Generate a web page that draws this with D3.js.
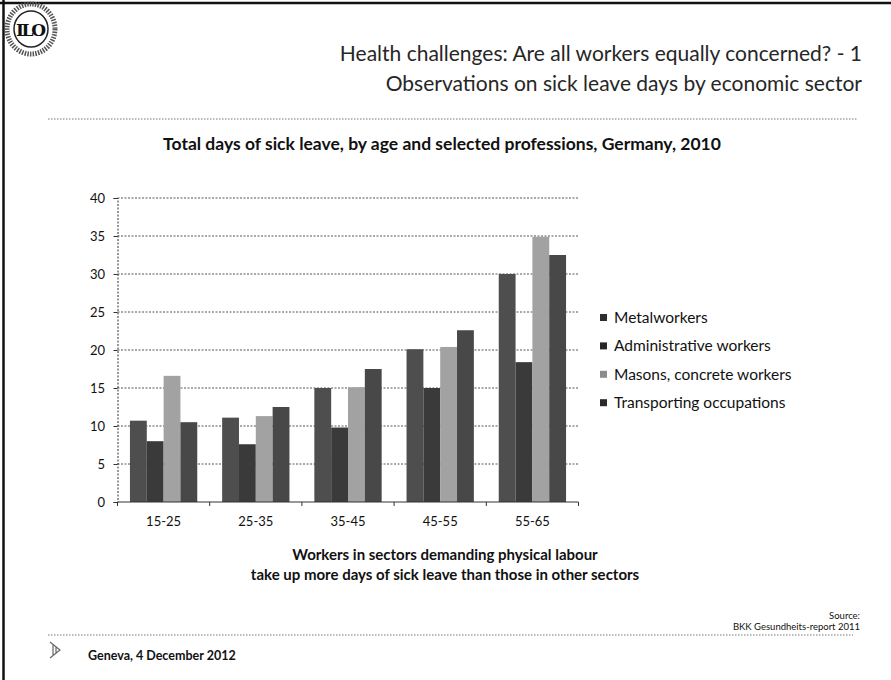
<!DOCTYPE html>
<html>
<head>
<meta charset="utf-8">
<script src="https://cdn.jsdelivr.net/npm/d3@7"></script>
<style>
  html, body { margin: 0; padding: 0; background: #fff; }
  svg text { font-family: Lato, "Open Sans", "Liberation Sans", sans-serif; fill: #111; }
</style>
</head>
<body>
<svg id="chart" width="891" height="680"></svg>
<script>
// Age groups on the x axis
const ageGroups = ["15-25", "25-35", "35-45", "45-55", "55-65"];
// Professions shown as the bars inside each age group
const professions = ["Metalworkers", "Administrative workers", "Masons, concrete workers", "Transporting occupations"];
// Total days of sick leave per profession, one value per age group
const metalworkers   = [10.7, 11.1, 15.0, 20.1, 30.0];
const administrative = [8.0, 7.6, 9.8, 15.0, 18.4];
const masons         = [16.6, 11.3, 15.1, 20.4, 34.9];
const transporting   = [10.5, 12.5, 17.5, 22.6, 32.5];
const yTicks = [0, 5, 10, 15, 20, 25, 30, 35, 40];

const seriesValues = [metalworkers, administrative, masons, transporting];
const fills = ["#4e4e4e", "#3a3a3a", "#a2a2a2", "#484848"];
const legendFills = ["#2e2e2e", "#262626", "#8c8c8c", "#2a2a2a"];

const svg = d3.select("#chart");

// Slide frame
svg.append("line").attr("x1", 3.5).attr("x2", 3.5).attr("y1", 0).attr("y2", 680)
  .attr("stroke", "#111").attr("stroke-width", 2.5);
svg.append("line").attr("x1", 0).attr("x2", 891).attr("y1", 3).attr("y2", 3)
  .attr("stroke", "#111").attr("stroke-width", 2.5);

// ILO emblem: laurel ring with the letters in the middle
const logo = svg.append("g").attr("transform", "translate(31,29)");
logo.append("ellipse").attr("rx", 24).attr("ry", 25).attr("fill", "none")
  .attr("stroke", "#555").attr("stroke-width", 5).attr("stroke-dasharray", "1.5,1.2");
logo.append("ellipse").attr("rx", 17).attr("ry", 18).attr("fill", "none")
  .attr("stroke", "#222").attr("stroke-width", 1.5);
logo.append("text").attr("text-anchor", "middle").attr("y", 7)
  .style("font-family", "'DejaVu Serif', serif").style("font-weight", "bold")
  .style("font-size", "17px").attr("textLength", 30).text("ILO");

// Slide titles
svg.append("text").attr("x", 862).attr("y", 61).attr("text-anchor", "end")
  .style("font-size", "21px").style("fill", "#262626")
  .text("Health challenges: Are all workers equally concerned? - 1");
svg.append("text").attr("x", 862).attr("y", 91).attr("text-anchor", "end")
  .style("font-size", "21px").style("fill", "#262626")
  .text("Observations on sick leave days by economic sector");

svg.append("line").attr("x1", 48).attr("x2", 857).attr("y1", 119).attr("y2", 119)
  .attr("stroke", "#777").attr("stroke-width", 1).attr("stroke-dasharray", "1.5,1.5");

// Chart title
svg.append("text").attr("x", 442).attr("y", 150).attr("text-anchor", "middle")
  .style("font-size", "17.5px").style("font-weight", "bold")
  .text("Total days of sick leave,  by age and selected professions, Germany, 2010");

// Plot area
const plotLeft = 117.5, plotRight = 578.5, plotTop = 198, plotBottom = 502;
const x0 = d3.scaleBand().domain(ageGroups).range([plotLeft, plotRight]).paddingInner(0.27).paddingOuter(0.135);
const x1 = d3.scaleBand().domain(d3.range(professions.length)).range([0, x0.bandwidth()]);
const y = d3.scaleLinear().domain([0, 40]).range([plotBottom, plotTop]);

// Horizontal grid lines
svg.append("g").selectAll("line").data(yTicks.filter(d => d > 0)).join("line")
  .attr("x1", plotLeft).attr("x2", plotRight)
  .attr("y1", d => y(d)).attr("y2", d => y(d))
  .attr("stroke", "#555").attr("stroke-width", 1).attr("stroke-dasharray", "2,1.5");

// Y axis
const yAxis = svg.append("g").attr("transform", `translate(${plotLeft},0)`)
  .call(d3.axisLeft(y).tickValues(yTicks).tickSize(4).tickPadding(8.5));
yAxis.select(".domain").attr("stroke", "#333").attr("stroke-dasharray", "2,1.5");
yAxis.selectAll(".tick line").attr("stroke", "#333");
yAxis.selectAll("text").style("font-size", "13px").style("font-family", "Lato, sans-serif").attr("fill", "#111");

// Bars
const groups = svg.append("g").selectAll("g").data(ageGroups).join("g")
  .attr("transform", d => `translate(${x0(d)},0)`);
groups.selectAll("rect")
  .data((d, i) => seriesValues.map((vals, s) => ({ s, v: vals[i] })))
  .join("rect")
  .attr("x", d => x1(d.s))
  .attr("width", x1.bandwidth())
  .attr("y", d => y(d.v))
  .attr("height", d => y(0) - y(d.v))
  .attr("fill", d => fills[d.s]);

// X axis with ticks at category boundaries
const xAxisG = svg.append("g").attr("transform", `translate(0,${plotBottom})`);
xAxisG.append("line").attr("x1", plotLeft).attr("x2", plotRight).attr("y1", 0).attr("y2", 0)
  .attr("stroke", "#333").attr("stroke-width", 1);
const step = x0.step();
const boundaries = ageGroups.map(d => x0(d) - x0.paddingInner() * step / 2).concat([plotRight]);
xAxisG.selectAll("line.tk").data(boundaries).join("line").attr("class", "tk")
  .attr("x1", d => d).attr("x2", d => d).attr("y1", 0).attr("y2", 4).attr("stroke", "#333");
xAxisG.selectAll("text").data(ageGroups).join("text")
  .attr("x", d => x0(d) + x0.bandwidth() / 2).attr("y", 23.5)
  .attr("text-anchor", "middle").style("font-size", "13px").text(d => d);

// Legend
const legend = svg.append("g").attr("transform", "translate(600,323)");
const lg = legend.selectAll("g").data(professions).join("g")
  .attr("transform", (d, i) => `translate(0,${i * 28.4})`);
lg.append("rect").attr("x", 0).attr("y", -9).attr("width", 7).attr("height", 7)
  .attr("fill", (d, i) => legendFills[i]);
lg.append("text").attr("x", 14).attr("y", 0).style("font-size", "15.5px").text(d => d);

// Key message
svg.append("text").attr("x", 445).attr("y", 560).attr("text-anchor", "middle")
  .style("font-size", "15px").style("font-weight", "bold")
  .text("Workers in sectors demanding physical labour");
svg.append("text").attr("x", 445).attr("y", 580).attr("text-anchor", "middle")
  .style("font-size", "15px").style("font-weight", "bold")
  .text("take up more days of sick leave than those in other sectors");

// Source
svg.append("text").attr("x", 860).attr("y", 619).attr("text-anchor", "end")
  .style("font-size", "9.5px").text("Source:");
svg.append("text").attr("x", 860).attr("y", 630).attr("text-anchor", "end")
  .style("font-size", "9.5px").text("BKK Gesundheits-report 2011");

svg.append("line").attr("x1", 48).attr("x2", 853).attr("y1", 635).attr("y2", 635)
  .attr("stroke", "#777").attr("stroke-width", 1).attr("stroke-dasharray", "1.5,1.5");

// Footer
const arrow = svg.append("g").attr("transform", "translate(50,650)");
arrow.append("path").attr("d", "M0,-8 L10,0 L0,8 M3,-5 L3,5 M6,-3 L6,3")
  .attr("fill", "none").attr("stroke", "#666").attr("stroke-width", 1.2);
svg.append("text").attr("x", 88).attr("y", 660)
  .style("font-size", "12.5px").style("font-weight", "bold")
  .text("Geneva, 4 December 2012");
</script>
</body>
</html>
